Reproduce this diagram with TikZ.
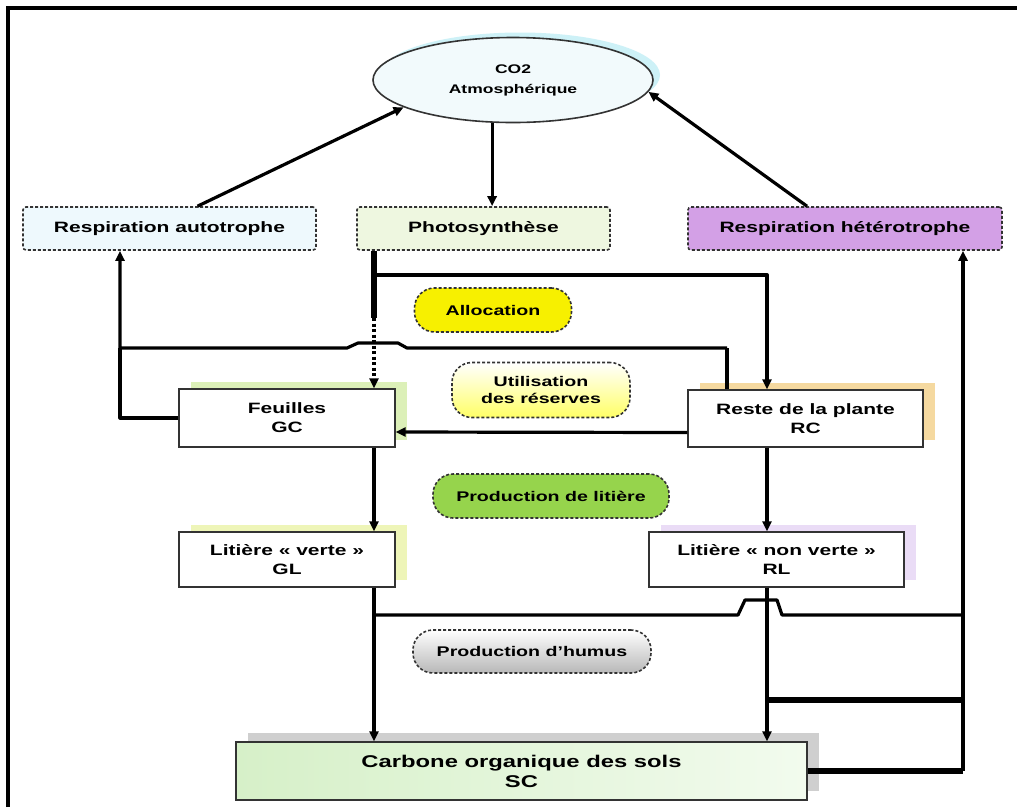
\documentclass[tikz,border=0pt]{standalone}
\usepackage{fontspec}
\setmainfont{Liberation Sans}[FakeStretch=1.4]
\usetikzlibrary{arrows.meta,calc,shapes.geometric,shadows}
\definecolor{bord}{HTML}{333333}
\definecolor{raF}{HTML}{EEF9FD}
\definecolor{psF}{HTML}{EEF7E0}
\definecolor{rhF}{HTML}{D3A0E6}
\definecolor{alF}{HTML}{F7F000}
\definecolor{plF}{HTML}{96D44C}
\definecolor{coF}{HTML}{F2FAFC}
\definecolor{coS}{HTML}{CDF1F7}
\definecolor{gcS}{HTML}{DCF0B8}
\definecolor{rcS}{HTML}{F5D9A0}
\definecolor{glS}{HTML}{EEF5B8}
\definecolor{rlS}{HTML}{EADCF6}
\definecolor{scS}{HTML}{CFCFCF}
\definecolor{scL}{HTML}{D6F0C8}
\definecolor{scR}{HTML}{F2FBEE}
\begin{document}
\begin{tikzpicture}[x=1pt,y=-1pt,
  every node/.style={font=\bfseries\fontsize{15}{19}\selectfont, align=center, inner sep=0pt},
  dbox/.style={draw=bord, line width=1.6pt, dash pattern=on 3pt off 2pt, rounded corners=3pt},
  pill/.style={draw=bord, line width=1.6pt, dash pattern=on 3pt off 2pt, rounded corners=20pt, font=\bfseries\fontsize{14}{17}\selectfont},
  pbox/.style={draw=bord, line width=1.4pt, fill=white, general shadow={shadow xshift=12pt, shadow yshift=7pt, fill=#1}},
  ln/.style={line width=3.2pt, line join=round},
  arr/.style={ln, -{Triangle[length=10pt,width=9pt]}},
  thk/.style={line width=5.5pt}
]
\useasboundingbox (0,0) rectangle (1020,807);
\fill[white] (0,0) rectangle (1020,807);
% frame
\draw[line width=4pt] (8,807) -- (8,8) -- (1017,8);

% nodes
\node[ellipse, draw=bord, line width=1.6pt, fill=coF, minimum width=280pt, minimum height=85pt,
      general shadow={shadow xshift=7pt, shadow yshift=5pt, fill=coS},
      font=\bfseries\fontsize{12.5}{20}\selectfont] (co2) at (513,80) {CO2\\Atmosphérique};
\node[dbox, fill=raF, minimum width=293pt, minimum height=43pt] (ra) at (169.5,228.5) {Respiration autotrophe};
\node[dbox, fill=psF, minimum width=253pt, minimum height=43pt] (ps) at (483.5,228.5) {Photosynthèse};
\node[dbox, fill=rhF, minimum width=314pt, minimum height=43pt] (rh) at (845,228.5) {Respiration hétérotrophe};
\node[pill, fill=alF, minimum width=157pt, minimum height=44pt] (al) at (493,310) {Allocation};
\node[pill, top color=white, bottom color=yellow!60, minimum width=178pt, minimum height=55pt] (ut) at (541,390) {Utilisation\\des réserves};
\node[pbox=gcS, minimum width=216pt, minimum height=58pt] (gc) at (287,418) {Feuilles\\GC};
\node[pbox=rcS, minimum width=235pt, minimum height=57pt] (rc) at (805.5,418.5) {Reste de la plante\\RC};
\node[pill, fill=plF, minimum width=236pt, minimum height=44pt] (pl) at (551,496) {Production de litière};
\node[pbox=glS, minimum width=216pt, minimum height=55pt] (gl) at (287,559.5) {Litière « verte »\\GL};
\node[pbox=rlS, minimum width=255pt, minimum height=55pt] (rl) at (776.5,559.5) {Litière « non verte »\\RL};
\node[pill, top color=white, bottom color=black!28, minimum width=238pt, minimum height=43pt] (hu) at (532,651.5) {Production d’humus};
\node[draw=bord, line width=1.4pt, left color=scL, right color=scR, minimum width=571pt, minimum height=58pt,
      general shadow={shadow xshift=12pt, shadow yshift=9pt, fill=scS},
      font=\bfseries\fontsize{17}{20}\selectfont] (sc) at (521.5,771) {Carbone organique des sols\\SC};

% lanes
\coordinate (lp) at (374,275);
\coordinate (ld) at (374,318);
\coordinate (lr) at (767,275);
\coordinate (lu) at (727,348);
\coordinate (la) at (120,348);
\coordinate (lh) at (963,615);
\coordinate (lb) at (963,700);

% connectors to CO2
\draw[arr] ([xshift=28pt]ra.north) -- (co2.194);
\draw[arr] (co2.244) -- (co2.244 |- ps.north);
\draw[arr] ([xshift=-38pt]rh.north) -- (co2.355);

% photosynthesis stem and allocation
\draw[line width=6pt] (ps.south -| lp) -- (ld);
\draw[line width=3.5pt, dash pattern=on 3pt off 2.5pt, -{Triangle[length=10pt,width=9pt]}] (ld) -- (gc.north -| ld);
\draw[line width=4pt, line join=round, -{Triangle[length=10pt,width=9pt]}] (lp) -- (lr) -- (rc.north -| lr);

% RC up to autotrophic respiration, with bump over the stem
\draw[line width=4.5pt] (rc.north -| lu) -- (lu);
\draw[arr] (lu) -- ($(ld|-lu)+(33,0)$) -- ($(ld|-lu)+(24,-5)$) -- ($(ld|-lu)+(-16,-5)$)
  -- ($(ld|-lu)+(-27,0)$) -- (la) -- (ra.south -| la);
\draw[ln] (gc.west) -| (la);

% RC -> GC
\draw[arr] ([yshift=-14pt]rc.west) -- ([yshift=-14pt]gc.east);

% litter production
\draw[arr] (gc.south -| lp) -- (gl.north -| lp);
\draw[arr] (rc.south -| lr) -- (rl.north -| lr);

% humus production
\draw[arr] (gl.south -| lp) -- (sc.north -| lp);
\draw[arr] (rl.south -| lr) -- (sc.north -| lr);

% heterotrophic respiration collector
\draw[ln] (lp |- lh) -- ($(lr|-lh)+(-29,0)$) -- ($(lr|-lh)+(-22,-15)$) -- ($(lr|-lh)+(10,-15)$)
  -- ($(lr|-lh)+(15,0)$) -- (lh);
\draw[thk] (lb -| lr) -- (lb);
\draw[thk] (sc.east) -- (sc.east -| lh);
\draw[arr] (sc.east -| lh) -- (rh.south -| lh);
\end{tikzpicture}
\end{document}
